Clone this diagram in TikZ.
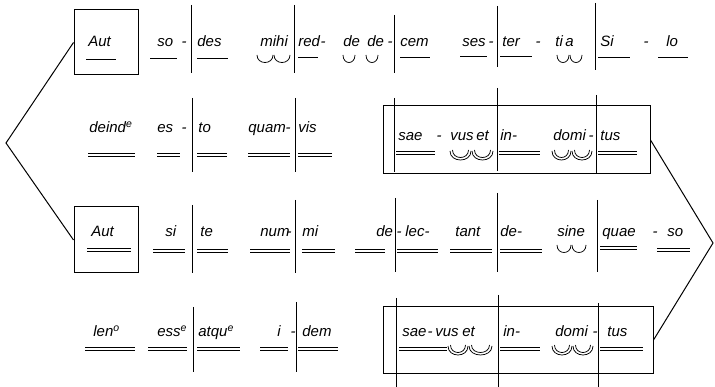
\documentclass[tikz,border=0pt]{standalone}
\usepackage{fontspec}
\setmainfont{Liberation Sans}
\newcommand\mkS[3]{\draw (#1,#3) -- (#2,#3);}
\newcommand\mkD[3]{\draw (#1,#3) -- (#2,#3) (#1,#3+3.6) -- (#2,#3+3.6);}
\newcommand\mkB[3]{\draw (#1,#3) .. controls (#1,#3+10) and (#2,#3+10) .. (#2,#3);}
\newcommand\mkBB[3]{\draw (#1+2.5,#3) .. controls (#1+2.5,#3+10) and (#2-2.5,#3+10) .. (#2-2.5,#3);
  \draw (#1,#3+1) .. controls (#1,#3+13) and (#2,#3+13) .. (#2,#3+1);}
\newcommand\mkV[3]{\draw[line width=1pt] (#1,#2) -- (#1,#3);}
\newcommand\sy[4]{\node[syl] (#1) at (#2,#3) {#4};}
\newcommand\hy[3]{\node[hyp] (#1) at (#2,#3) {-};}
\tikzset{
  syl/.style={anchor=base west, inner sep=0pt, font=\fontsize{15}{15}\selectfont\itshape},
  hyp/.style={anchor=base, inner sep=0pt, font=\fontsize{15}{15}\selectfont\itshape},
  lbox/.style={draw, inner sep=0pt, line width=1pt}
}
\begin{document}
\begin{tikzpicture}[x=1pt,y=-1pt,line width=0.75pt]
\useasboundingbox (0,0) rectangle (715,387);
% boxes
\node[lbox, minimum width=64pt, minimum height=65pt] (boxA) at (106,42.5) {};
\node[lbox, minimum width=64pt, minimum height=66pt] (boxB) at (106,240) {};
\node[lbox, minimum width=267pt, minimum height=68pt] (boxC) at (516.5,140) {};
\node[lbox, minimum width=270pt, minimum height=66pt] (boxD) at (518,340) {};
\coordinate (lv) at (6,143);
\coordinate (rv) at (713,243);
\draw[line width=1pt] (boxA.west) -- (lv) -- (boxB.west);
\draw[line width=1pt] (boxC.east) -- (rv) -- (boxD.east);
% ---------- row 1 ----------
\sy{a1}{88}{47}{Aut}
\sy{a2}{157}{47}{so}
\hy{a3}{184}{47}
\sy{a4}{197}{47}{des}
\sy{a5}{260}{47}{mihi}
\sy{a6}{298}{47}{red}
\hy{a7}{323}{47}
\sy{a8}{343}{47}{de}
\sy{a9}{367}{47}{de}
\hy{a10}{390}{47}
\sy{a11}{400}{47}{cem}
\sy{a12}{462}{47}{ses}
\hy{a13}{491}{47}
\sy{a14}{502}{47}{ter}
\hy{a15}{538}{47}
\sy{a16}{555}{47}{ti\,a}
\sy{a17}{600}{47}{Si}
\hy{a18}{646}{47}
\sy{a19}{666}{47}{lo}
\mkS{86}{116}{59}
\mkS{150}{177}{58}
\mkS{197}{228}{58}
\mkS{298}{318}{57}
\mkS{400}{430}{57}
\mkS{460}{487}{56}
\mkS{500}{532}{56}
\mkS{598}{630}{57}
\mkS{658}{688}{57}
\mkB{257}{273}{55}\mkB{274}{290}{55}
\mkB{343}{355}{55}
\mkB{366}{378}{55}
\mkB{557}{569}{55}\mkB{570}{582}{55}
\mkV{191}{5}{73}
\mkV{294}{5}{73}
\mkV{394}{15}{73}
\mkV{497}{6}{67}
\mkV{595}{3}{70}
% ---------- row 2 ----------
\sy{b1}{89}{133}{deind\textsuperscript{e}}
\sy{b2}{157}{133}{es}
\hy{b3}{184}{133}
\sy{b4}{198}{133}{to}
\sy{b5}{248}{133}{quam}
\hy{b6}{288}{133}
\sy{b7}{298}{133}{vis}
\mkD{88}{135}{153}
\mkD{157}{180}{153}
\mkD{197}{227}{153}
\mkD{248}{290}{153}
\mkD{298}{332}{153}
\mkV{192}{98}{172}
\mkV{295}{98}{172}
\sy{b8}{398}{141}{sae}
\hy{b9}{439}{141}
\sy{b10}{450}{141}{vus}
\sy{b11}{476}{141}{et}
\sy{b12}{500}{141}{in-}
\sy{b13}{553}{141}{domi}
\hy{b14}{591}{141}
\sy{b15}{600}{141}{tus}
\mkD{396}{435}{151}
\mkD{499}{540}{151}
\mkD{598}{637}{151}
\mkBB{450}{471}{150}\mkBB{472}{493}{150}
\mkBB{552}{571}{150}\mkBB{572}{592}{150}
\mkV{394}{98}{172}
\mkV{497}{88}{171}
\mkV{596}{95}{174}
% ---------- row 3 ----------
\sy{c1}{91}{237}{Aut}
\sy{c2}{165}{237}{si}
\sy{c3}{200}{237}{te}
\sy{c4}{260}{237}{num}
\hy{c5}{289}{237}
\sy{c6}{302}{237}{mi}
\sy{c7}{376}{237}{de}
\hy{c8}{399}{237}
\sy{c9}{405}{237}{lec-}
\sy{c10}{455}{237}{tant}
\sy{c11}{500}{237}{de-}
\sy{c12}{557}{237}{sine}
\sy{c13}{602}{237}{quae}
\hy{c14}{655}{237}
\sy{c15}{667}{237}{so}
\mkD{87}{131}{248}
\mkD{153}{185}{249}
\mkD{197}{228}{249}
\mkD{250}{290}{249}
\mkD{302}{335}{249}
\mkD{355}{385}{249}
\mkD{397}{438}{249}
\mkD{450}{492}{249}
\mkD{500}{542}{249}
\draw[line width=1pt] (600,247) -- (637,247) (600,249.5) -- (637,249.5);
\mkD{657}{690}{248}
\mkB{557}{571}{245}\mkB{572}{586}{245}
\mkV{192}{205}{273}
\mkV{295}{200}{273}
\mkV{395}{198}{272}
\mkV{497}{193}{272}
\mkV{597}{200}{272}
% ---------- row 4 ----------
\sy{d1}{93}{337}{len\textsuperscript{o}}
\sy{d2}{157}{337}{ess\textsuperscript{e}}
\sy{d3}{198}{337}{atqu\textsuperscript{e}}
\sy{d4}{277}{337}{i}
\hy{d5}{293}{337}
\sy{d6}{302}{337}{dem}
\mkD{85}{135}{347}
\mkD{148}{187}{347}
\mkD{197}{240}{347}
\mkD{260}{288}{347}
\mkD{298}{338}{347}
\mkV{193}{307}{372}
\mkV{296}{302}{372}
\sy{d7}{402}{337}{sae}
\hy{d8}{430}{337}
\sy{d9}{435}{337}{vus}
\sy{d10}{462}{337}{et}
\sy{d11}{503}{337}{in-}
\sy{d12}{555}{337}{domi}
\hy{d13}{595}{337}
\sy{d14}{607}{337}{tus}
\mkD{399}{447}{347}
\mkD{500}{540}{347}
\mkD{600}{643}{347}
\mkBB{448}{468}{345}\mkBB{469}{492}{345}
\mkBB{552}{572}{345}\mkBB{573}{593}{345}
\mkV{396}{298}{387}
\mkV{498}{295}{387}
\mkV{598}{303}{387}
\end{tikzpicture}
\end{document}
